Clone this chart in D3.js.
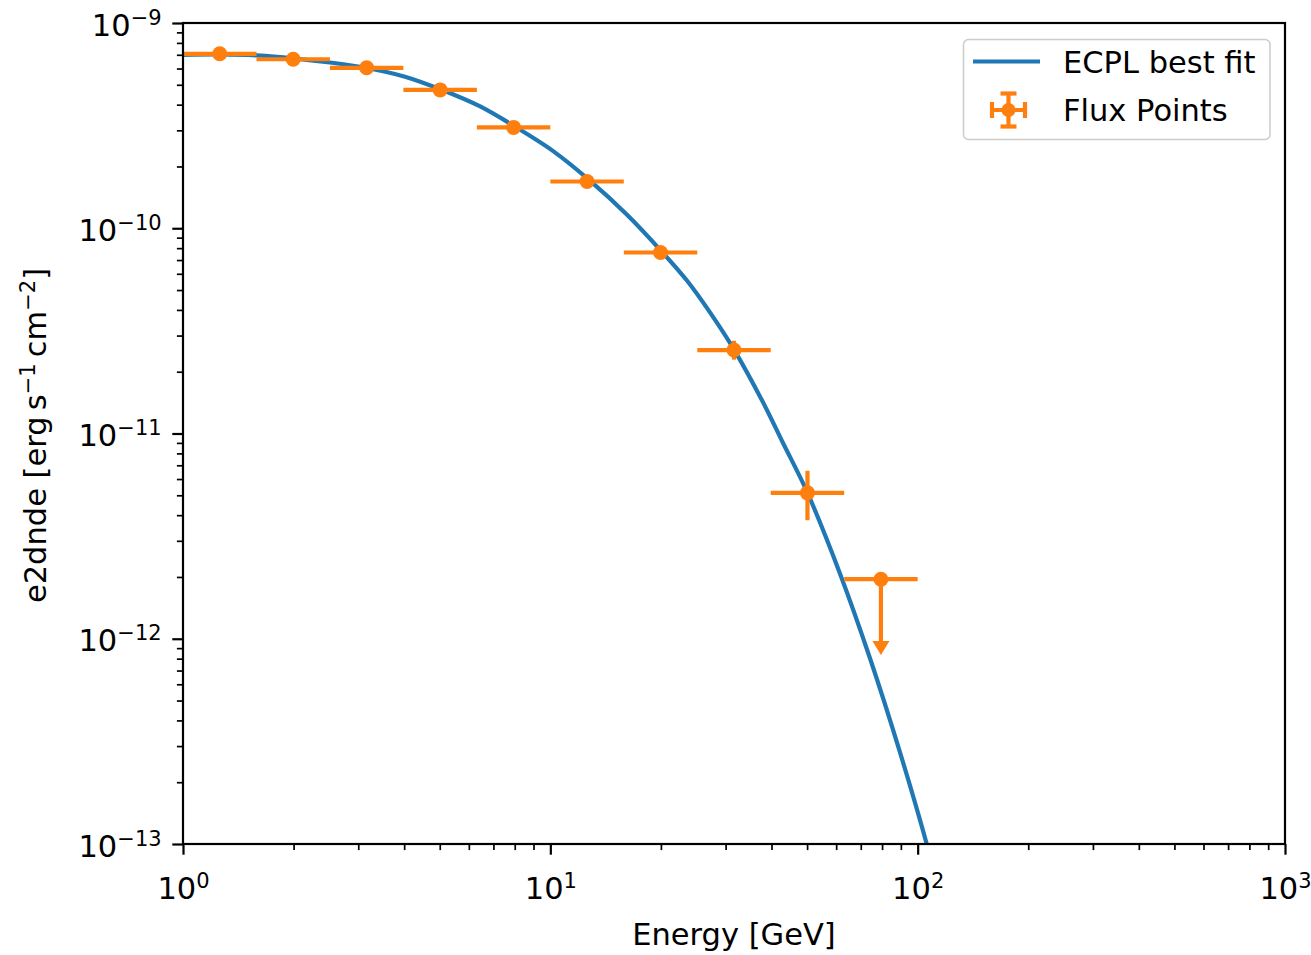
<!DOCTYPE html>
<html>
<head>
<meta charset="utf-8">
<script src="https://cdn.jsdelivr.net/npm/d3@7"></script>
<style>
  html, body { margin: 0; padding: 0; background: #ffffff; }
  svg text { font-family: "DejaVu Sans", sans-serif; fill: #000000; }
</style>
</head>
<body>
<svg id="chart" width="1311" height="955"></svg>
<script>
// ---- Flux points (energy bins in GeV, e2dnde in erg s^-1 cm^-2) ----
const binLo  = [1.0, 1.585, 2.512, 3.981, 6.310, 10.0, 15.85, 25.12, 39.81, 63.10];
const binHi  = [1.585, 2.512, 3.981, 6.310, 10.0, 15.85, 25.12, 39.81, 63.10, 100.0];
const energy = [1.259, 1.995, 3.162, 5.012, 7.943, 12.59, 19.95, 31.62, 50.12, 79.43];
const e2dnde = [7.08e-10, 6.66e-10, 6.05e-10, 4.72e-10, 3.10e-10, 1.69e-10, 7.62e-11, 2.55e-11, 5.14e-12, 1.95e-12];
const e2dndeErrn = [1.4e-11, 1.3e-11, 1.2e-11, 1.0e-11, 7.0e-12, 4.0e-12, 2.5e-12, 2.6e-12, 1.36e-12, 0.975e-12];
const e2dndeErrp = [1.4e-11, 1.3e-11, 1.2e-11, 1.0e-11, 7.0e-12, 4.0e-12, 2.5e-12, 2.8e-12, 1.44e-12, 0];
const isUpperLimit = [false, false, false, false, false, false, false, false, false, true];

// ---- Best-fit ECPL model curve samples ----
const modelEnergy = [1.0, 1.27, 1.59, 2.0, 2.51, 3.19, 4.0, 5.04, 6.44, 7.96, 10.2, 12.7, 16.2,
                     20.1, 23.6, 27.2, 31.6, 38.0, 43.0, 50.0, 61.5, 74.2, 89.6, 106, 122];
const modelE2dnde = [7.00e-10, 7.03e-10, 6.95e-10, 6.73e-10, 6.42e-10, 6.02e-10, 5.49e-10, 4.74e-10,
                     3.92e-10, 3.15e-10, 2.37e-10, 1.73e-10, 1.16e-10, 7.70e-11, 5.53e-11, 3.89e-11,
                     2.57e-11, 1.41e-11, 8.99e-12, 5.19e-12, 2.07e-12, 8.01e-13, 2.78e-13, 9.9e-14, 3.7e-14];

// ---- Axis settings ----
const xDomain = [1, 1000];
const yDomain = [1e-13, 1e-9];
const xMajor = [1, 10, 100, 1000];
const yMajor = [1e-13, 1e-12, 1e-11, 1e-10, 1e-9];
const xLabel = "Energy [GeV]";
const legendLabels = ["ECPL best fit", "Flux Points"];

const BLUE = "#1f77b4";
const ORANGE = "#ff7f0e";
const FS = 30.5;        // base font size
const SUP = 21;         // superscript size
const SUP_RAISE = 11;

const plot = { left: 183, right: 1285, top: 23, bottom: 844 };

const svg = d3.select("#chart");

const x = d3.scaleLog().domain(xDomain).range([plot.left, plot.right]);
const y = d3.scaleLog().domain(yDomain).range([plot.bottom, plot.top]);

// minor ticks 2..9 within each decade
function minorTicks(lo, hi) {
  const out = [];
  for (let p = Math.log10(lo); p < Math.log10(hi); p++) {
    for (let m = 2; m <= 9; m++) out.push(m * Math.pow(10, p));
  }
  return out;
}
const xMinor = minorTicks(xDomain[0], xDomain[1]);
const yMinor = minorTicks(yDomain[0], yDomain[1]);

function expText(v) {
  const e = Math.round(Math.log10(v));
  return e < 0 ? "\u2212" + (-e) : String(e);
}
function powLabel(text, v) {
  text.append("tspan").text("10");
  text.append("tspan").attr("dy", -SUP_RAISE).attr("font-size", SUP).text(expText(v));
}

// ---- Clip ----
svg.append("defs").append("clipPath").attr("id", "plotClip")
  .append("rect")
  .attr("x", plot.left).attr("y", plot.top)
  .attr("width", plot.right - plot.left).attr("height", plot.bottom - plot.top);

// ---- Axes ----
const xMinorAxis = svg.append("g").attr("transform", `translate(0,${plot.bottom})`)
  .call(d3.axisBottom(x).tickValues(xMinor).tickSize(6.1).tickFormat(""));
const xMajorAxis = svg.append("g").attr("transform", `translate(0,${plot.bottom})`)
  .call(d3.axisBottom(x).tickValues(xMajor).tickSize(10.7).tickFormat(""));
const yMinorAxis = svg.append("g").attr("transform", `translate(${plot.left},0)`)
  .call(d3.axisLeft(y).tickValues(yMinor).tickSize(6.1).tickFormat(""));
const yMajorAxis = svg.append("g").attr("transform", `translate(${plot.left},0)`)
  .call(d3.axisLeft(y).tickValues(yMajor).tickSize(10.7).tickFormat(""));

[xMinorAxis, xMajorAxis, yMinorAxis, yMajorAxis].forEach(g => g.select(".domain").remove());
[xMinorAxis, yMinorAxis].forEach(g => g.selectAll(".tick line").attr("stroke", "#000").attr("stroke-width", 1.7));
[xMajorAxis, yMajorAxis].forEach(g => g.selectAll(".tick line").attr("stroke", "#000").attr("stroke-width", 2.2));

xMajorAxis.selectAll(".tick").each(function (d) {
  const t = d3.select(this).append("text")
    .attr("x", 0).attr("y", 55)
    .attr("text-anchor", "middle")
    .attr("font-size", FS);
  powLabel(t, d);
});
yMajorAxis.selectAll(".tick").each(function (d) {
  const t = d3.select(this).append("text")
    .attr("x", -21.4).attr("y", 12)
    .attr("text-anchor", "end")
    .attr("font-size", FS);
  powLabel(t, d);
});

// ---- Axis labels ----
svg.append("text")
  .attr("x", (plot.left + plot.right) / 2).attr("y", 945)
  .attr("text-anchor", "middle").attr("font-size", FS)
  .text(xLabel);

const yl = svg.append("text")
  .attr("transform", `translate(46,${(plot.top + plot.bottom) / 2 + 2}) rotate(-90)`)
  .attr("text-anchor", "middle").attr("font-size", FS);
yl.append("tspan").text("e2dnde [erg\u2009s");
yl.append("tspan").attr("dy", -SUP_RAISE).attr("font-size", SUP).text("\u22121");
yl.append("tspan").attr("dy", SUP_RAISE).text("\u2009cm");
yl.append("tspan").attr("dy", -SUP_RAISE).attr("font-size", SUP).text("\u22122");
yl.append("tspan").attr("dy", SUP_RAISE).text("]");

// ---- Model curve ----
const modelData = modelEnergy.map((e, i) => ({ e, v: modelE2dnde[i] }));
const line = d3.line().x(d => x(d.e)).y(d => y(d.v)).curve(d3.curveCatmullRom.alpha(0.5));
svg.append("g").attr("clip-path", "url(#plotClip)")
  .append("path")
  .datum(modelData)
  .attr("d", line)
  .attr("fill", "none")
  .attr("stroke", BLUE)
  .attr("stroke-width", 4.2);

// ---- Flux points ----
const pts = energy.map((e, i) => ({
  e, v: e2dnde[i], lo: binLo[i], hi: binHi[i],
  en: e2dndeErrn[i], ep: e2dndeErrp[i], ul: isUpperLimit[i]
}));
const fp = svg.append("g").attr("clip-path", "url(#plotClip)");
const g = fp.selectAll("g.pt").data(pts).enter().append("g").attr("class", "pt");

g.append("line")
  .attr("x1", d => x(d.lo)).attr("x2", d => x(d.hi))
  .attr("y1", d => y(d.v)).attr("y2", d => y(d.v))
  .attr("stroke", ORANGE).attr("stroke-width", 4.2);
g.append("line")
  .attr("x1", d => x(d.e)).attr("x2", d => x(d.e))
  .attr("y1", d => y(d.v - d.en)).attr("y2", d => y(d.v + d.ep))
  .attr("stroke", ORANGE).attr("stroke-width", 4.2);
g.filter(d => d.ul).append("path")
  .attr("d", d => {
    const cx = x(d.e), by = y(d.v - d.en);
    return `M${cx - 8.5},${by} L${cx + 8.5},${by} L${cx},${by + 14} Z`;
  })
  .attr("fill", ORANGE);
g.append("circle")
  .attr("cx", d => x(d.e)).attr("cy", d => y(d.v))
  .attr("r", 7.5).attr("fill", ORANGE);

// ---- Frame ----
svg.append("rect")
  .attr("x", plot.left).attr("y", plot.top)
  .attr("width", plot.right - plot.left).attr("height", plot.bottom - plot.top)
  .attr("fill", "none").attr("stroke", "#000").attr("stroke-width", 2.2);

// ---- Legend ----
const lg = svg.append("g");
lg.append("rect")
  .attr("x", 963.5).attr("y", 39.5).attr("width", 306.5).attr("height", 100)
  .attr("rx", 5).attr("ry", 5)
  .attr("fill", "#ffffff").attr("fill-opacity", 0.8)
  .attr("stroke", "#cccccc").attr("stroke-width", 1.5);
lg.append("line")
  .attr("x1", 973).attr("x2", 1040).attr("y1", 61.5).attr("y2", 61.5)
  .attr("stroke", BLUE).attr("stroke-width", 4.2);
lg.append("text").attr("x", 1063).attr("y", 72.5).attr("font-size", FS).text(legendLabels[0]);

const icx = 1008.5, icy = 110;
const icon = lg.append("g").attr("stroke", ORANGE).attr("stroke-width", 4.2);
icon.append("line").attr("x1", icx - 16.5).attr("x2", icx + 16.5).attr("y1", icy).attr("y2", icy);
icon.append("line").attr("x1", icx).attr("x2", icx).attr("y1", icy - 16.5).attr("y2", icy + 16.5);
icon.append("line").attr("x1", icx - 16.5).attr("x2", icx - 16.5).attr("y1", icy - 8).attr("y2", icy + 8);
icon.append("line").attr("x1", icx + 16.5).attr("x2", icx + 16.5).attr("y1", icy - 8).attr("y2", icy + 8);
icon.append("line").attr("x1", icx - 8).attr("x2", icx + 8).attr("y1", icy - 16.5).attr("y2", icy - 16.5);
icon.append("line").attr("x1", icx - 8).attr("x2", icx + 8).attr("y1", icy + 16.5).attr("y2", icy + 16.5);
lg.append("circle").attr("cx", icx).attr("cy", icy).attr("r", 7).attr("fill", ORANGE);
lg.append("text").attr("x", 1063).attr("y", 121).attr("font-size", FS).text(legendLabels[1]);
</script>
</body>
</html>
